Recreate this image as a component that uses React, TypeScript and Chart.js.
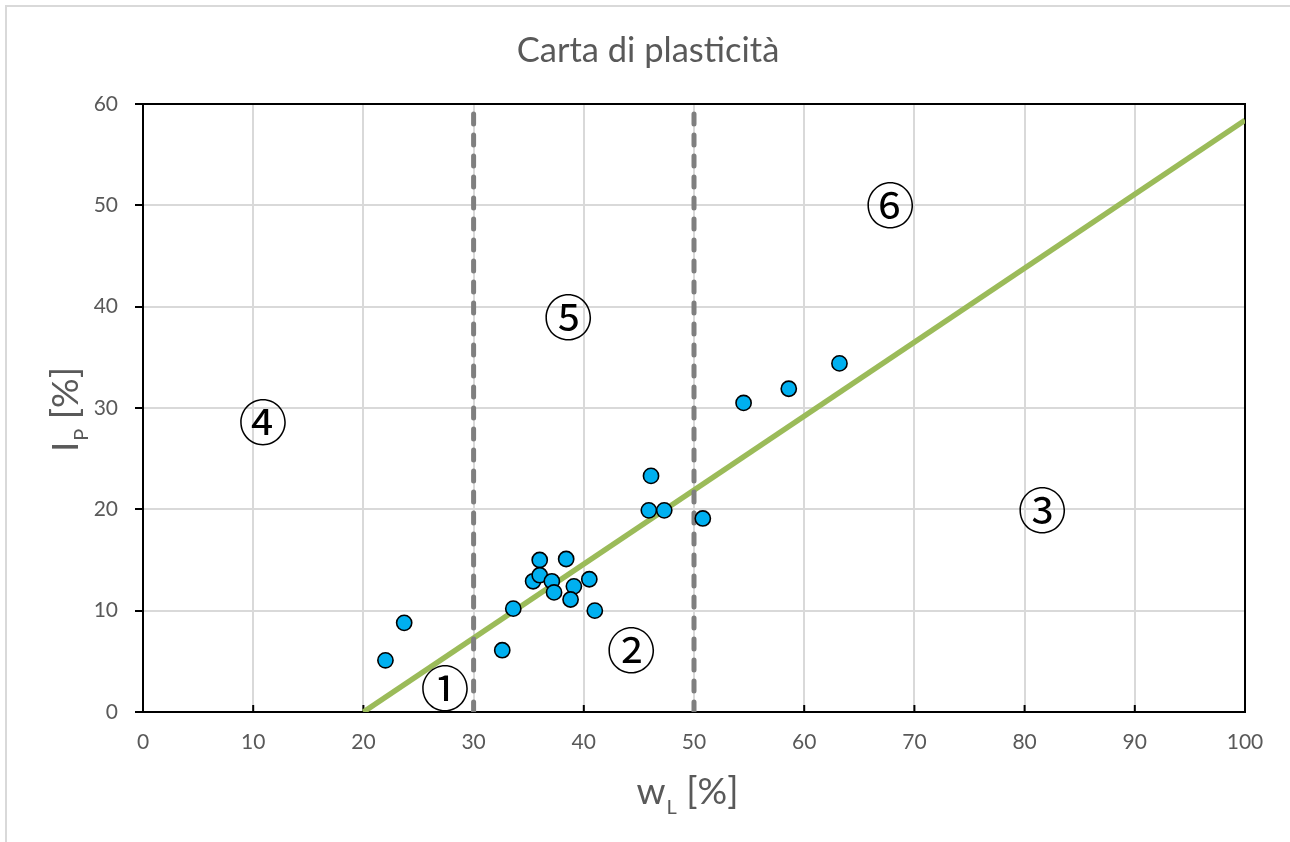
import { useEffect, useRef } from "react";
import { Chart, registerables } from "chart.js";

Chart.register(...registerables);

// ---- data ----
const chartTitle = "Carta di plasticità";
const pointsWL = [22.0, 23.7, 32.6, 33.6, 35.4, 36.0, 36.0, 37.1, 37.3, 38.4, 39.1, 38.8, 40.5, 41.0, 46.1, 45.9, 47.3, 50.8, 54.5, 58.6, 63.2];
const pointsIP = [5.1, 8.8, 6.1, 10.2, 12.9, 15.0, 13.5, 12.9, 11.8, 15.1, 12.4, 11.1, 13.1, 10.0, 23.3, 19.9, 19.9, 19.1, 30.5, 31.9, 34.4];
const aLineWL = [20, 100];
const aLineIP = [0, 58.4];
const limitLowWL = [30, 30];
const limitHighWL = [50, 50];
const limitIP = [0, 60];
const zoneLabels = ["①", "②", "③", "④", "⑤", "⑥"];
const zoneWL = [27.4, 44.3, 81.6, 10.9, 38.6, 67.8];
const zoneIP = [2.3, 6.1, 19.9, 28.6, 38.9, 50.0];
const xMin = 0, xMax = 100, xStep = 10;
const yMin = 0, yMax = 60, yStep = 10;
const xTitleMain = "w", xTitleSub = "L", xTitleRest = " [%]";
const yTitleMain = "I", yTitleSub = "P", yTitleRest = " [%]";

const FONT = "Lato, 'Noto Sans', sans-serif";
const TXT = "#595959";

function zip(xs: number[], ys: number[]) {
  return xs.map((x, i) => ({ x, y: ys[i] }));
}

const decorPlugin = {
  id: "decor",
  beforeDraw(chart: any) {
    const ctx = chart.ctx;
    ctx.save();
    ctx.fillStyle = "#ffffff";
    ctx.fillRect(0, 0, chart.width, chart.height);
    ctx.strokeStyle = "#d9d9d9";
    ctx.lineWidth = 2;
    ctx.beginPath();
    ctx.moveTo(6, chart.height);
    ctx.lineTo(6, 6);
    ctx.lineTo(chart.width, 6);
    ctx.stroke();
    ctx.restore();
  },
  beforeDatasetsDraw(chart: any) {
    const ctx = chart.ctx;
    const a = chart.chartArea;
    const xs = chart.scales.x;
    ctx.save();
    ctx.strokeStyle = "#000000";
    ctx.lineWidth = 2;
    for (let v = xMin; v <= xMax; v += xStep) {
      const px = xs.getPixelForValue(v);
      ctx.beginPath();
      ctx.moveTo(px, a.bottom);
      ctx.lineTo(px, a.bottom - 7);
      ctx.stroke();
    }
    ctx.strokeRect(a.left, a.top, a.right - a.left, a.bottom - a.top);
    ctx.restore();
  },
  afterDraw(chart: any) {
    const ctx = chart.ctx;
    const a = chart.chartArea;
    const xs = chart.scales.x;
    const ys = chart.scales.y;
    ctx.save();
    ctx.fillStyle = TXT;
    ctx.font = `34.5px ${FONT}`;
    ctx.textAlign = "center";
    ctx.textBaseline = "alphabetic";
    ctx.fillText(chartTitle, 648, 62);

    const drawSubTitle = (main: string, sub: string, rest: string) => {
      ctx.font = `37px ${FONT}`;
      const w1 = ctx.measureText(main).width;
      const w3 = ctx.measureText(rest).width;
      ctx.font = `20px ${FONT}`;
      const w2 = ctx.measureText(sub).width;
      const total = w1 + w2 + w3;
      let x = -total / 2;
      ctx.textAlign = "left";
      ctx.font = `37px ${FONT}`;
      ctx.fillText(main, x, 0);
      x += w1 + 1;
      ctx.font = `20px ${FONT}`;
      ctx.fillText(sub, x, 10);
      x += w2;
      ctx.font = `37px ${FONT}`;
      ctx.fillText(rest, x, 0);
    };
    ctx.save();
    ctx.translate((a.left + a.right) / 2 - 7, 804);
    drawSubTitle(xTitleMain, xTitleSub, xTitleRest);
    ctx.restore();
    ctx.save();
    ctx.translate(78, (a.top + a.bottom) / 2 + 2);
    ctx.rotate(-Math.PI / 2);
    drawSubTitle(yTitleMain, yTitleSub, yTitleRest);
    ctx.restore();

    ctx.fillStyle = "#000000";
    ctx.font = `49px 'Noto Sans CJK JP'`;
    ctx.textAlign = "center";
    ctx.textBaseline = "middle";
    zoneLabels.forEach((t, i) => {
      ctx.fillText(t, xs.getPixelForValue(zoneWL[i]), ys.getPixelForValue(zoneIP[i]));
    });
    ctx.restore();
  },
};

export default function App() {
  const ref = useRef<HTMLCanvasElement | null>(null);
  useEffect(() => {
    document.body.style.margin = "0";
    const canvas = ref.current!;
    const chart = new Chart(canvas, {
      type: "scatter",
      data: {
        datasets: [
          {
            label: "Campioni",
            data: zip(pointsWL, pointsIP),
            backgroundColor: "#00b0f0",
            borderColor: "#000000",
            borderWidth: 1.6,
            pointRadius: 7.6,
            showLine: false,
          },
          {
            label: "wL = 30",
            data: zip(limitLowWL, limitIP),
            showLine: true,
            borderColor: "#7f7f7f",
            borderWidth: 5,
            borderDash: [10, 11],
            borderCapStyle: "round",
            pointRadius: 0,
          },
          {
            label: "wL = 50",
            data: zip(limitHighWL, limitIP),
            showLine: true,
            borderColor: "#7f7f7f",
            borderWidth: 5,
            borderDash: [10, 11],
            borderCapStyle: "round",
            pointRadius: 0,
          },
          {
            label: "Linea A",
            data: zip(aLineWL, aLineIP),
            showLine: true,
            borderColor: "#9bbb59",
            borderWidth: 5.5,
            pointRadius: 0,
          },
        ],
      },
      options: {
        animation: false,
        responsive: false,
        devicePixelRatio: 1,
        layout: { padding: { top: 104, right: 45, left: 0, bottom: 0 } },
        plugins: {
          legend: { display: false },
          title: { display: false },
          tooltip: { enabled: false },
        },
        scales: {
          x: {
            type: "linear",
            min: xMin,
            max: xMax,
            afterFit: (s: any) => { s.height = 130; },
            ticks: {
              stepSize: xStep,
              color: TXT,
              font: { family: FONT, size: 21 },
              padding: 18,
            },
            grid: { color: "#d9d9d9", lineWidth: 2, drawTicks: false },
            border: { display: false },
          },
          y: {
            type: "linear",
            min: yMin,
            max: yMax,
            afterFit: (s: any) => { s.width = 143; },
            ticks: {
              stepSize: yStep,
              color: TXT,
              font: { family: FONT, size: 21 },
              padding: 17,
            },
            grid: { color: "#d9d9d9", lineWidth: 2, drawTicks: true, tickLength: 8, tickColor: "#000000", tickWidth: 2 },
            border: { display: false },
          },
        },
      },
      plugins: [decorPlugin],
    } as any);
    return () => chart.destroy();
  }, []);
  return (
    <div style={{ position: "fixed", left: 0, top: 0, width: 1290, height: 842, background: "#fff" }}>
      <canvas ref={ref} width={1290} height={842} style={{ display: "block" }} />
    </div>
  );
}
